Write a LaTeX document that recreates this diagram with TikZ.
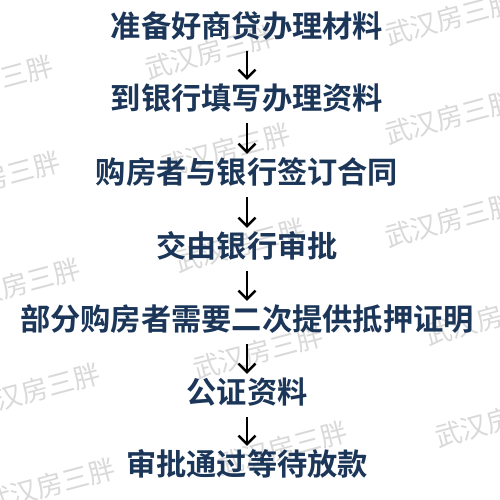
\documentclass[tikz,border=0pt]{standalone}
\usepackage{fontspec}
\newfontfamily\cjkb[BoldFont={Noto Sans CJK SC Bold}]{Noto Sans CJK SC}
\usetikzlibrary{arrows.meta}
\definecolor{navy}{HTML}{1B3658}
\tikzset{
  stage/.style={inner sep=0pt,text height=0.88em,text depth=0.12em,text=navy,
    font=\cjkb\bfseries\fontsize{21.5}{21.5}\selectfont},
  wmark/.style={rotate=15,text=black!15,inner sep=0pt,font=\cjkb\fontsize{19}{19}\selectfont},
  flow/.style={line width=1.8pt,-{Straight Barb[length=6pt,width=12pt,line width=1.8pt]},
    shorten <=0.3cm,shorten >=0.42cm}
}
\begin{document}
\begin{tikzpicture}[x=0.025cm,y=-0.025cm]
\useasboundingbox[fill=white] (0,0) rectangle (500,500);
\begin{scope}
\clip (0,0) rectangle (500,500);
\foreach \wx/\wy in {210/52,450/18,-12/82,450/117,225/150,-5/178,450/220,240/245,15/285,490/318,258/352,35/390,500/420,282/448,50/485}
  \node[wmark] at (\wx,\wy) {武汉房三胖};
\end{scope}
\node[stage] (st1) at (247,32) {准备好商贷办理材料};
\node[stage] (st2) at (247,104) {到银行填写办理资料};
\node[stage] (st3) at (247,178) {购房者与银行签订合同};
\node[stage] (st4) at (247,252) {交由银行审批};
\node[stage] (st5) at (247,325) {部分购房者需要二次提供抵押证明};
\node[stage] (st6) at (247,398) {公证资料};
\node[stage] (st7) at (247,470) {审批通过等待放款};
\foreach \a/\b in {st1/st2,st2/st3,st3/st4,st4/st5,st5/st6,st6/st7}
  \draw[flow] (\a) -- (\b);
\end{tikzpicture}
\end{document}
